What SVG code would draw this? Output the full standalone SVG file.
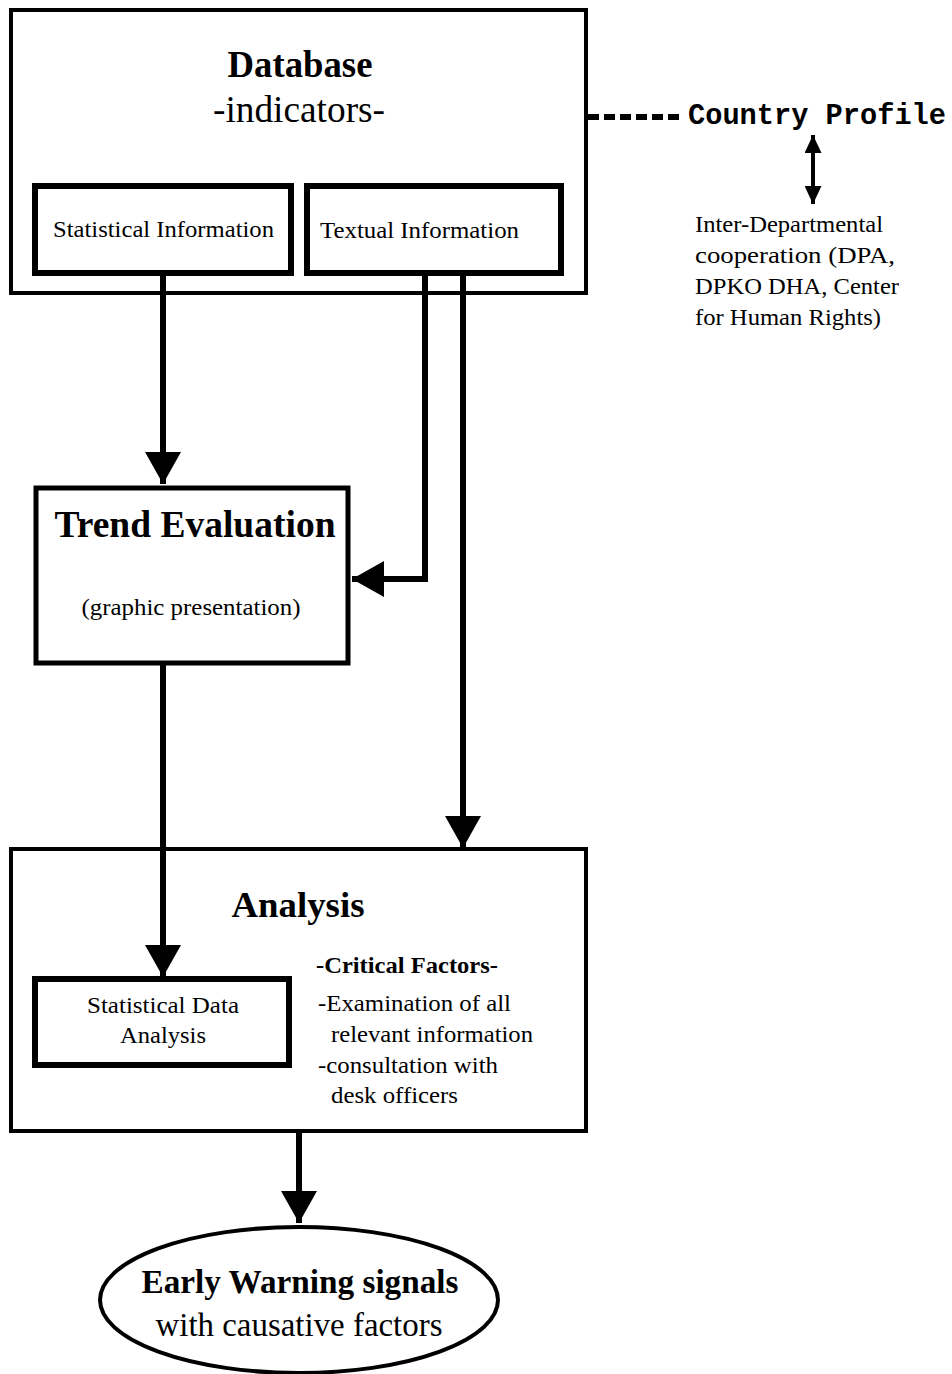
<svg xmlns="http://www.w3.org/2000/svg" width="952" height="1374" viewBox="0 0 952 1374">
<style>
.t{font-family:"Liberation Serif","Times New Roman",serif;fill:#000}
.b{font-weight:bold}
.box{fill:#fff;stroke:#000}
.ln{fill:none;stroke:#000;stroke-width:6}
.mono{font-family:"Liberation Mono","Courier New",monospace;font-weight:bold;fill:#000}
</style>
<defs>
<marker id="ah" viewBox="0 0 32 36" refX="32" refY="18" markerWidth="32" markerHeight="36" markerUnits="userSpaceOnUse" orient="auto"><path d="M0,0 L32,18 L0,36 Z" fill="#000"/></marker>
<marker id="sm" viewBox="0 0 18 17" refX="18" refY="8.5" markerWidth="18" markerHeight="17" markerUnits="userSpaceOnUse" orient="auto-start-reverse"><path d="M0,0 L18,8.5 L0,17 Z" fill="#000"/></marker>
</defs>
<rect width="952" height="1374" fill="#fff"/>
<g id="database">
<rect class="box" x="11" y="10" width="575" height="283" stroke-width="4"/>
<text class="t b" x="300" y="77" font-size="37" text-anchor="middle" textLength="145" lengthAdjust="spacingAndGlyphs">Database</text>
<text class="t" x="299" y="122" font-size="37" text-anchor="middle" textLength="172" lengthAdjust="spacingAndGlyphs">-indicators-</text>
</g>
<g id="statinfo">
<rect class="box" x="35" y="186" width="256" height="87" stroke-width="6"/>
<text class="t" x="53" y="237" font-size="24" textLength="221" lengthAdjust="spacingAndGlyphs">Statistical Information</text>
</g>
<g id="textinfo">
<rect class="box" x="307" y="186" width="254" height="87" stroke-width="6"/>
<text class="t" x="320" y="238" font-size="24" textLength="199" lengthAdjust="spacingAndGlyphs">Textual Information</text>
</g>
<g id="trend">
<rect class="box" x="36" y="488" width="312" height="175" stroke-width="5"/>
<text class="t b" x="195" y="537" font-size="37" text-anchor="middle" textLength="281" lengthAdjust="spacingAndGlyphs">Trend Evaluation</text>
<text class="t" x="191" y="615" font-size="24" text-anchor="middle" textLength="219" lengthAdjust="spacingAndGlyphs">(graphic presentation)</text>
</g>
<g id="analysis">
<rect class="box" x="11" y="849" width="575" height="282" stroke-width="4"/>
<text class="t b" x="298" y="917" font-size="36" text-anchor="middle" textLength="133" lengthAdjust="spacingAndGlyphs">Analysis</text>
<text class="t b" x="316" y="973" font-size="24" textLength="182" lengthAdjust="spacingAndGlyphs">-Critical Factors-</text>
<text class="t" x="318" y="1011" font-size="24" textLength="193" lengthAdjust="spacingAndGlyphs">-Examination of all</text>
<text class="t" x="331" y="1042" font-size="24" textLength="202" lengthAdjust="spacingAndGlyphs">relevant information</text>
<text class="t" x="318" y="1073" font-size="24" textLength="180" lengthAdjust="spacingAndGlyphs">-consultation with</text>
<text class="t" x="331" y="1103" font-size="24" textLength="127" lengthAdjust="spacingAndGlyphs">desk officers</text>
</g>
<g id="statanalysis">
<rect class="box" x="35" y="979" width="254" height="86" stroke-width="6"/>
<text class="t" x="163" y="1013" font-size="24" text-anchor="middle" textLength="152" lengthAdjust="spacingAndGlyphs">Statistical Data</text>
<text class="t" x="163" y="1043" font-size="24" text-anchor="middle" textLength="86" lengthAdjust="spacingAndGlyphs">Analysis</text>
</g>
<g id="earlywarning">
<ellipse cx="299" cy="1300" rx="199" ry="73" fill="#fff" stroke="#000" stroke-width="4"/>
<text class="t b" x="300" y="1293" font-size="33" text-anchor="middle" textLength="317" lengthAdjust="spacingAndGlyphs">Early Warning signals</text>
<text class="t" x="299" y="1336" font-size="33" text-anchor="middle" textLength="287" lengthAdjust="spacingAndGlyphs">with causative factors</text>
</g>
<g id="countryprofile">
<text class="mono" x="688" y="124" font-size="29" textLength="258" lengthAdjust="spacingAndGlyphs">Country Profile</text>
</g>
<g id="interdept">
<text class="t" font-size="24"><tspan x="695" y="232" textLength="188" lengthAdjust="spacingAndGlyphs">Inter-Departmental</tspan><tspan x="695" y="263" textLength="200" lengthAdjust="spacingAndGlyphs">cooperation (DPA,</tspan><tspan x="695" y="294" textLength="204" lengthAdjust="spacingAndGlyphs">DPKO DHA, Center</tspan><tspan x="695" y="325" textLength="186" lengthAdjust="spacingAndGlyphs">for Human Rights)</tspan></text>
</g>
<g id="connectors">
<path class="ln" d="M163,276 V484" marker-end="url(#ah)"/>
<path class="ln" d="M425,276 V579 H352" marker-end="url(#ah)"/>
<path class="ln" d="M463,276 V848" marker-end="url(#ah)"/>
<path class="ln" d="M163,665 V977" marker-end="url(#ah)"/>
<path class="ln" d="M299,1133 V1223" stroke-width="8" marker-end="url(#ah)"/>
<path d="M588,117 H684" fill="none" stroke="#000" stroke-width="6" stroke-dasharray="11,5"/>
<path d="M813,135 V204" fill="none" stroke="#000" stroke-width="4" marker-start="url(#sm)" marker-end="url(#sm)"/>
</g>
</svg>
